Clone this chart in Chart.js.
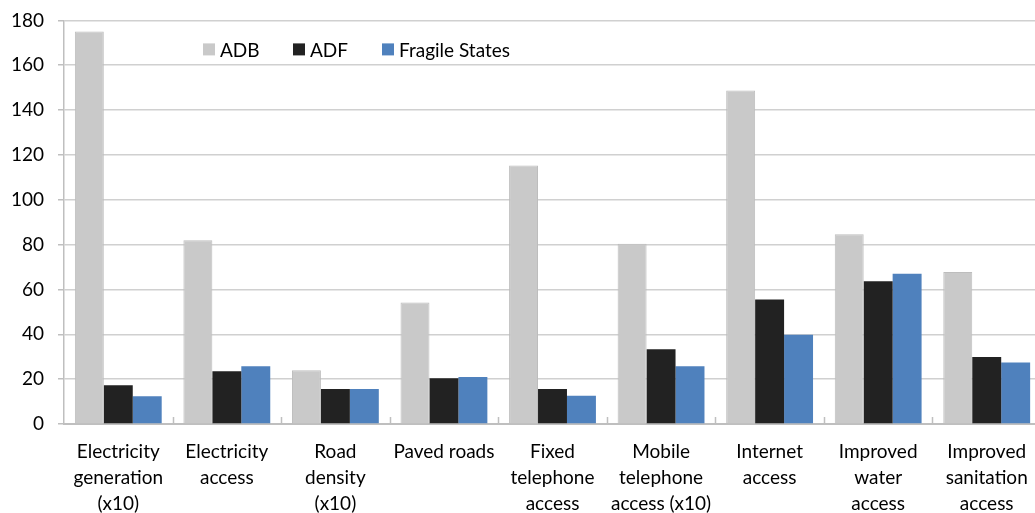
<!DOCTYPE html>
<html>
<head>
<meta charset="utf-8">
<script src="https://cdn.jsdelivr.net/npm/chart.js@4/dist/chart.umd.min.js"></script>
<style>
  html, body { margin: 0; padding: 0; background: #fff; overflow: hidden; }
  #wrap { width: 1041px; height: 518px; position: relative; margin-top: -5px; }
</style>
</head>
<body>
<div id="wrap"><canvas id="myChart"></canvas></div>
<script>
// categories (multi-line labels)
const categories = [
  ['Electricity', 'generation', '(x10)'],
  ['Electricity', 'access'],
  ['Road', 'density', '(x10)'],
  ['Paved roads'],
  ['Fixed', 'telephone', 'access'],
  ['Mobile', 'telephone', 'access (x10)'],
  ['Internet', 'access'],
  ['Improved', 'water', 'access'],
  ['Improved', 'sanitation', 'access']
];

// series values
const adbValues = [175, 82, 24, 54.2, 115.3, 80.4, 148.7, 84.6, 67.8];
const adfValues = [17.3, 23.5, 15.6, 20.4, 15.6, 33.3, 55.5, 63.7, 29.9];
const fragileValues = [12.4, 25.8, 15.6, 21, 12.6, 25.8, 39.8, 67, 27.4];

const seriesNames = ['ADB', 'ADF', 'Fragile States'];
const seriesColors = ['#c9c9c9', '#222222', '#4f81bd'];

const FONT = 'Lato, "Open Sans", sans-serif';

// legend drawn inside the plot area, near the top
const innerLegend = {
  id: 'innerLegend',
  afterDraw(chart) {
    const ctx = chart.ctx;
    const area = chart.chartArea;
    const y = area.top + 29;
    let x = area.left + 139;
    const gaps = [90, 89, 0];
    ctx.save();
    ctx.font = '19px ' + FONT;
    ctx.textBaseline = 'middle';
    for (let i = 0; i < seriesNames.length; i++) {
      ctx.fillStyle = seriesColors[i];
      ctx.fillRect(x, y - 6, 12, 12);
      ctx.fillStyle = '#000';
      ctx.fillText(seriesNames[i], x + 17, y + 1);
      x += gaps[i];
    }
    ctx.restore();
  }
};

// small inner tick marks between categories on the x axis
const innerTicks = {
  id: 'innerTicks',
  afterDatasetsDraw(chart) {
    const xs = chart.scales.x;
    const ctx = chart.ctx;
    const bottom = chart.chartArea.bottom;
    const step = xs.getPixelForValue(1) - xs.getPixelForValue(0);
    ctx.save();
    ctx.strokeStyle = '#bfbfbf';
    ctx.lineWidth = 1.5;
    for (let i = 1; i < categories.length; i++) {
      const px = Math.round(xs.getPixelForValue(i) - step / 2) + 0.5;
      ctx.beginPath();
      ctx.moveTo(px, bottom);
      ctx.lineTo(px, bottom - 7);
      ctx.stroke();
    }
    ctx.restore();
  }
};

const ctx = document.getElementById('myChart').getContext('2d');
new Chart(ctx, {
  type: 'bar',
  data: {
    labels: categories,
    datasets: [
      { label: seriesNames[0], data: adbValues, backgroundColor: seriesColors[0], borderColor: '#bdbdbd', borderWidth: 1 },
      { label: seriesNames[1], data: adfValues, backgroundColor: seriesColors[1], borderWidth: 0 },
      { label: seriesNames[2], data: fragileValues, backgroundColor: seriesColors[2], borderWidth: 0 }
    ]
  },
  options: {
    responsive: true,
    maintainAspectRatio: false,
    animation: false,
    layout: { padding: { top: 14, right: 0, left: 0, bottom: 0 } },
    datasets: {
      bar: { categoryPercentage: 0.8, barPercentage: 1 }
    },
    plugins: {
      legend: { display: false },
      tooltip: { enabled: false }
    },
    scales: {
      x: {
        grid: { display: false },
        border: { display: true, color: '#bfbfbf', width: 2 },
        ticks: {
          color: '#000',
          font: { family: FONT, size: 19, lineHeight: 1.37 },
          maxRotation: 0,
          autoSkip: false,
          padding: 7
        },
        afterFit(scale) { scale.height = 89; }
      },
      y: {
        min: 0,
        max: 180,
        ticks: {
          stepSize: 20,
          color: '#000',
          font: { family: FONT, size: 19 },
          padding: 14
        },
        grid: { color: '#d0d0d0', lineWidth: 1.5, tickLength: 6, tickColor: '#bfbfbf' },
        border: { display: true, color: '#bfbfbf', width: 1.5 },
        afterFit(scale) { scale.width = 64; }
      }
    }
  },
  plugins: [innerLegend, innerTicks]
});
</script>
</body>
</html>
